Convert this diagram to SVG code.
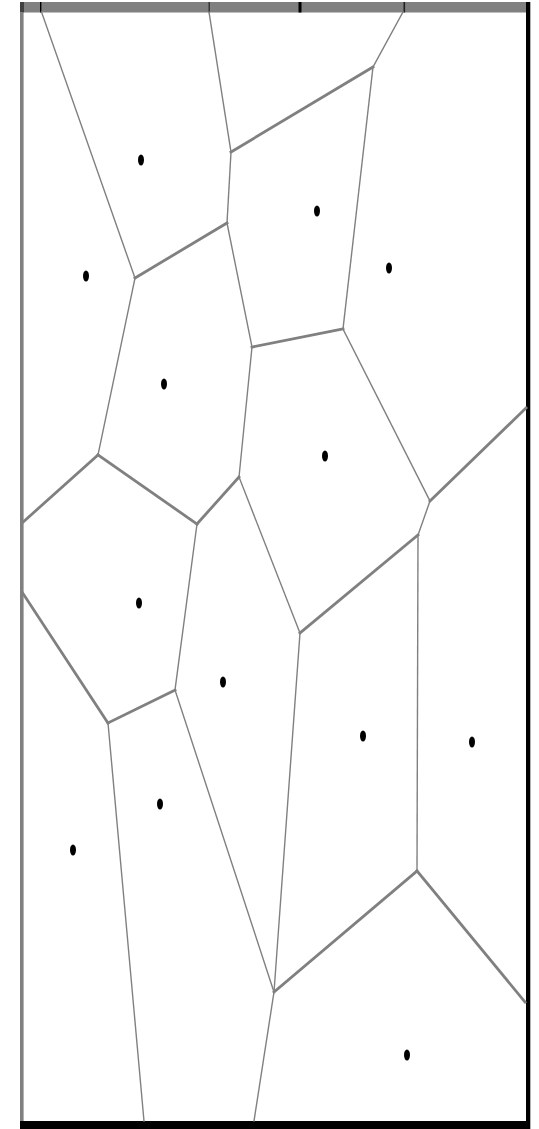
<svg xmlns="http://www.w3.org/2000/svg" width="539" height="1129" viewBox="0 0 539 1129">
<style>
.e{stroke:#808080;fill:none;stroke-linecap:square}
.t{stroke-width:1.4}
.k{stroke-width:2.8}
.s{fill:#000}
</style>
<rect width="539" height="1129" fill="#fff"/>
<g id="frame">
<rect x="20" y="2" width="506" height="10.5" fill="#808080"/>
<rect x="20" y="2" width="4" height="10.5" fill="#404040"/>
<rect x="20" y="12" width="3.6" height="1110" fill="#808080"/>
<rect x="526" y="2" width="4.3" height="1127" fill="#000"/>
<rect x="20" y="1121" width="510" height="8" fill="#000"/>
<rect x="40" y="2" width="1.4" height="10.5" fill="#000"/>
<rect x="208.5" y="2" width="1.4" height="10.5" fill="#303030"/>
<rect x="298.5" y="2" width="3" height="10.5" fill="#000"/>
<rect x="403.5" y="2" width="1.6" height="10.5" fill="#202020"/>
</g>
<g id="connectors">
<line class="e t" x1="41.5" y1="12" x2="135" y2="278"/>
<line class="e t" x1="209" y1="12" x2="231" y2="152"/>
<line class="e t" x1="403" y1="12" x2="373" y2="67"/>
<line class="e k" x1="373" y1="67" x2="231" y2="152"/>
<line class="e t" x1="373" y1="67" x2="343" y2="329"/>
<line class="e t" x1="231" y1="152" x2="227" y2="223"/>
<line class="e k" x1="227" y1="223" x2="135" y2="278"/>
<line class="e t" x1="227" y1="223" x2="252" y2="347"/>
<line class="e k" x1="252" y1="347" x2="343" y2="329"/>
<line class="e t" x1="343" y1="329" x2="430" y2="501"/>
<line class="e k" x1="430" y1="501" x2="526" y2="408"/>
<line class="e t" x1="430" y1="501" x2="418" y2="535"/>
<line class="e t" x1="418" y1="535" x2="417" y2="871"/>
<line class="e k" x1="418" y1="535" x2="300" y2="633"/>
<line class="e t" x1="252" y1="347" x2="239" y2="477"/>
<line class="e t" x1="239" y1="477" x2="300" y2="633"/>
<line class="e k" x1="239" y1="477" x2="197" y2="524"/>
<line class="e t" x1="135" y1="278" x2="98" y2="455"/>
<line class="e k" x1="98" y1="455" x2="197" y2="524"/>
<line class="e k" x1="98" y1="455" x2="22" y2="523"/>
<line class="e t" x1="197" y1="524" x2="175" y2="690"/>
<line class="e k" x1="22" y1="592" x2="108" y2="723"/>
<line class="e k" x1="108" y1="723" x2="175" y2="690"/>
<line class="e t" x1="175" y1="690" x2="274" y2="992"/>
<line class="e t" x1="300" y1="633" x2="274" y2="992"/>
<line class="e t" x1="108" y1="723" x2="144" y2="1121"/>
<line class="e k" x1="274" y1="992" x2="417" y2="871"/>
<line class="e k" x1="417" y1="871" x2="525" y2="1002"/>
<line class="e t" x1="274" y1="992" x2="254" y2="1121"/>
</g>
<g id="sites">
<ellipse id="p1" class="s" cx="141" cy="160" rx="3" ry="5.5"/>
<ellipse id="p2" class="s" cx="317" cy="211" rx="3" ry="5.5"/>
<ellipse id="p3" class="s" cx="86" cy="276" rx="3" ry="5.5"/>
<ellipse id="p4" class="s" cx="389" cy="268" rx="3" ry="5.5"/>
<ellipse id="p5" class="s" cx="164" cy="384" rx="3" ry="5.5"/>
<ellipse id="p6" class="s" cx="325" cy="456" rx="3" ry="5.5"/>
<ellipse id="p7" class="s" cx="139" cy="603" rx="3" ry="5.5"/>
<ellipse id="p8" class="s" cx="223" cy="682" rx="3" ry="5.5"/>
<ellipse id="p9" class="s" cx="363" cy="736" rx="3" ry="5.5"/>
<ellipse id="p10" class="s" cx="472" cy="742" rx="3" ry="5.5"/>
<ellipse id="p11" class="s" cx="160" cy="804" rx="3" ry="5.5"/>
<ellipse id="p12" class="s" cx="73" cy="850" rx="3" ry="5.5"/>
<ellipse id="p13" class="s" cx="407" cy="1055" rx="3" ry="5.5"/>
</g>
</svg>
